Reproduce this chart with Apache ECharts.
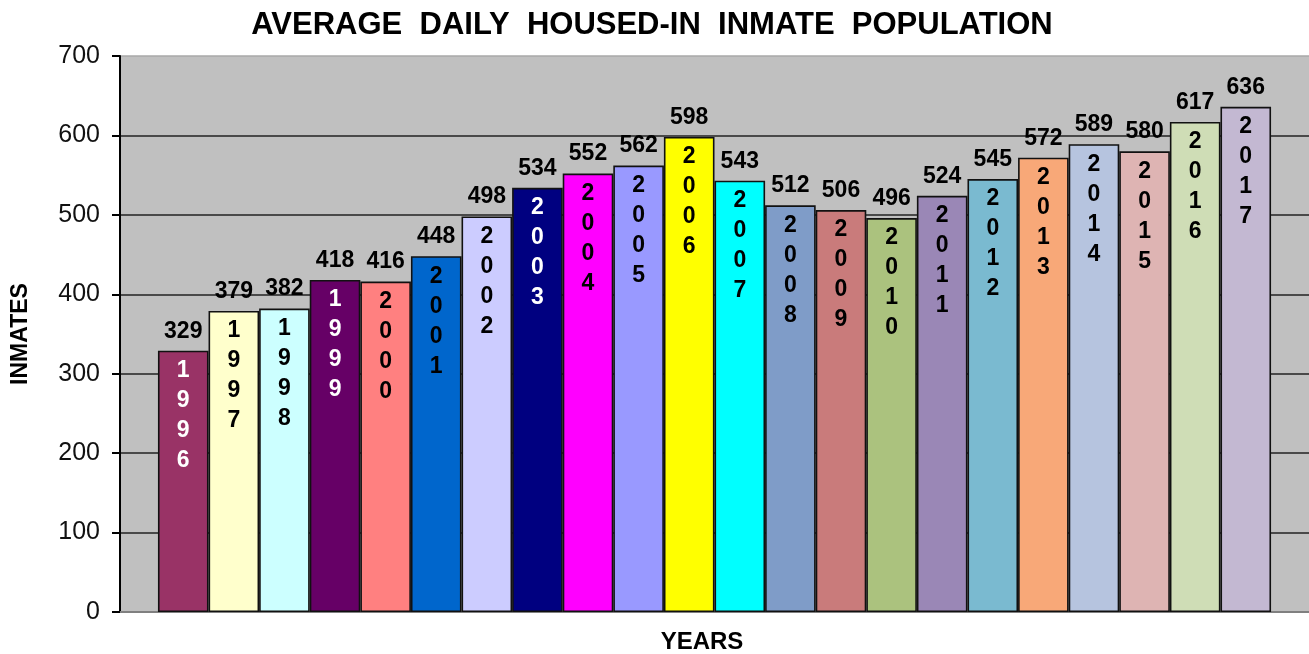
<!DOCTYPE html>
<html>
<head>
<meta charset="utf-8">
<script src="https://cdn.jsdelivr.net/npm/echarts@6/dist/echarts.min.js"></script>
<style>
  html, body { margin: 0; padding: 0; background: #fff; }
  #chart { width: 1309px; height: 654px; }
</style>
</head>
<body>
<div id="chart"></div>
<script>
const years = ['1996', '1997', '1998', '1999', '2000', '2001', '2002', '2003', '2004', '2005', '2006',
  '2007', '2008', '2009', '2010', '2011', '2012', '2013', '2014', '2015', '2016', '2017'];
const inmates = [329, 379, 382, 418, 416, 448, 498, 534, 552, 562, 598,
  543, 512, 506, 496, 524, 545, 572, 589, 580, 617, 636];
const barColors = ['#993366', '#FFFFCC', '#CCFFFF', '#660066', '#FF8080', '#0066CC', '#CCCCFF', '#000080',
  '#FF00FF', '#9999FF', '#FFFF00', '#00FFFF', '#7F9CC8', '#C97B7B', '#ABC27E', '#9A87B6',
  '#7ABAD0', '#F8A878', '#B6C4DF', '#DEB4B3', '#CFDDB6', '#C3B8D2'];
const whiteYearLabels = ['1996', '1999', '2003'];
const yTicks = [0, 100, 200, 300, 400, 500, 600, 700];

const FONT = 'Arial, "Liberation Sans", sans-serif';
const chart = echarts.init(document.getElementById('chart'), null, { renderer: 'canvas' });

const barData = inmates.map((v, i) => ({
  value: [i, v],
  itemStyle: { color: barColors[i] }
}));

// same bars again, transparent, only to carry the year written down inside each bar
const yearData = inmates.map((v, i) => ({
  value: [i, v],
  label: { color: whiteYearLabels.includes(years[i]) ? '#ffffff' : '#000000' }
}));

chart.setOption({
  animation: false,
  backgroundColor: '#ffffff',
  title: [
    {
      text: 'AVERAGE  DAILY  HOUSED-IN  INMATE  POPULATION',
      left: 647,
      top: 5,
      textAlign: 'center',
      textStyle: { fontFamily: FONT, fontSize: 31, fontWeight: 'bold', color: '#000' }
    },
    {
      text: 'YEARS',
      left: 697,
      top: 625,
      textAlign: 'center',
      textStyle: { fontFamily: FONT, fontSize: 24, fontWeight: 'bold', color: '#000' }
    }
  ],
  grid: {
    left: 120,
    right: 0,
    top: 56,
    bottom: 42,
    show: true,
    backgroundColor: '#C0C0C0',
    borderWidth: 0
  },
  xAxis: {
    type: 'value',
    min: -1.25,
    max: 22.25,
    axisLabel: { show: false },
    axisTick: { show: false },
    splitLine: { show: false },
    axisLine: { show: true, lineStyle: { color: '#808080', width: 2 } }
  },
  yAxis: {
    type: 'value',
    min: yTicks[0],
    max: yTicks[yTicks.length - 1],
    interval: 100,
    name: 'INMATES',
    nameLocation: 'middle',
    nameRotate: 90,
    nameGap: 88,
    nameTextStyle: { fontFamily: FONT, fontSize: 23, fontWeight: 'bold', color: '#000' },
    axisLine: { show: true, onZero: false, lineStyle: { color: '#000', width: 2 } },
    axisTick: { show: true, inside: false, length: 8, lineStyle: { color: '#000', width: 2 } },
    axisLabel: { fontFamily: FONT, fontSize: 25, color: '#111', margin: 20 },
    splitLine: {
      show: true,
      lineStyle: {
        color: ['#222', '#222', '#222', '#222', '#222', '#222', '#222', '#a8a8a8'],
        width: 1.6
      }
    }
  },
  series: [
    {
      type: 'bar',
      data: barData,
      barWidth: 50.6,
      barGap: '-100%',
      itemStyle: { borderColor: '#111', borderWidth: 1.6 },
      label: {
        show: true,
        position: 'top',
        distance: 8,
        fontFamily: FONT,
        fontSize: 23,
        fontWeight: 'bold',
        color: '#000',
        formatter: (p) => p.value[1]
      }
    },
    {
      type: 'bar',
      data: yearData,
      barWidth: 50.6,
      barGap: '-100%',
      itemStyle: { color: 'transparent', borderWidth: 0 },
      label: {
        show: true,
        position: 'insideTop',
        distance: 5,
        fontFamily: FONT,
        fontSize: 23,
        fontWeight: 'bold',
        lineHeight: 30,
        formatter: (p) => years[p.dataIndex].split('').join('\n')
      }
    }
  ]
});
</script>
</body>
</html>
